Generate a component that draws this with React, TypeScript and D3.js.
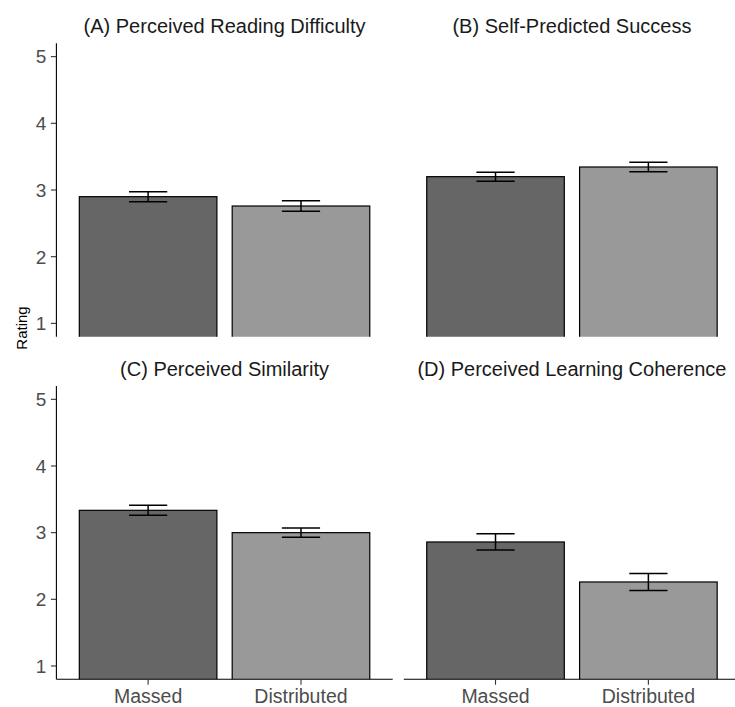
import React from "react";
import * as d3 from "d3";

const conditions = ["Massed", "Distributed"];
const panelTitles = [
  "(A) Perceived Reading Difficulty",
  "(B) Self-Predicted Success",
  "(C) Perceived Similarity",
  "(D) Perceived Learning Coherence",
];
const meanValues = [
  [2.9, 2.76],
  [3.2, 3.345],
  [3.335, 3.0],
  [2.86, 2.26],
];
const seValues = [
  [0.075, 0.077],
  [0.067, 0.07],
  [0.075, 0.07],
  [0.122, 0.127],
];
const yTicks = [1, 2, 3, 4, 5];
const barColors = ["#666666", "#999999"];

const W = 735;
const H = 707;
const colX: [number, number][] = [
  [56.4, 392.7],
  [403.8, 740.1],
];
const rowY: [number, number][] = [
  [43.3, 336.7],
  [386, 679.3],
];
const FONT = "Liberation Sans, Arial, Helvetica, sans-serif";

export default function App() {
  const panels = panelTitles.map((title, i) => {
    const col = i % 2;
    const row = Math.floor(i / 2);
    const x = d3
      .scaleBand<string>()
      .domain(conditions)
      .range(colX[col])
      .paddingInner(0.1)
      .paddingOuter(0.15);
    const y = d3
      .scaleLinear()
      .domain([0.8, 5.2])
      .range([rowY[row][1], rowY[row][0]]);
    const step = x.step();
    const ebHalf = (0.25 * step) / 2;
    const clipId = `clip-${i}`;
    const [x0, x1] = colX[col];
    const [yTop, yBot] = rowY[row];
    return (
      <g key={i}>
        <defs>
          <clipPath id={clipId}>
            <rect x={x0} y={yTop} width={x1 - x0} height={yBot - yTop} />
          </clipPath>
        </defs>
        <text
          x={(x0 + x1) / 2}
          y={yTop - 10}
          textAnchor="middle"
          fontSize={20}
          fill="#1A1A1A"
          fontFamily={FONT}
        >
          {title}
        </text>
        <g clipPath={`url(#${clipId})`}>
          {conditions.map((c, j) => {
            const m = meanValues[i][j];
            const se = seValues[i][j];
            const bx = x(c)!;
            const cx = bx + x.bandwidth() / 2;
            return (
              <g key={c}>
                <rect
                  x={bx}
                  y={y(m)}
                  width={x.bandwidth()}
                  height={y(0) - y(m)}
                  fill={barColors[j]}
                  stroke="#000"
                  strokeWidth={1.2}
                />
                <line x1={cx} x2={cx} y1={y(m - se)} y2={y(m + se)} stroke="#000" strokeWidth={1.5} />
                <line x1={cx - ebHalf} x2={cx + ebHalf} y1={y(m + se)} y2={y(m + se)} stroke="#000" strokeWidth={1.5} />
                <line x1={cx - ebHalf} x2={cx + ebHalf} y1={y(m - se)} y2={y(m - se)} stroke="#000" strokeWidth={1.5} />
              </g>
            );
          })}
        </g>
        {col === 0 && (
          <g>
            <line x1={x0} x2={x0} y1={yTop} y2={yBot} stroke="#000" strokeWidth={1.1} />
            {yTicks.map((t) => (
              <g key={t}>
                <line x1={x0 - 5.5} x2={x0} y1={y(t)} y2={y(t)} stroke="#333" strokeWidth={1.1} />
                <text
                  x={x0 - 10}
                  y={y(t)}
                  dy="0.36em"
                  textAnchor="end"
                  fontSize={19}
                  fill="#4D4D4D"
                  fontFamily={FONT}
                >
                  {t}
                </text>
              </g>
            ))}
          </g>
        )}
        {row === 1 && (
          <g>
            <line x1={x0} x2={x1} y1={yBot} y2={yBot} stroke="#000" strokeWidth={1.1} />
            {conditions.map((c) => {
              const cx = x(c)! + x.bandwidth() / 2;
              return (
                <g key={c}>
                  <line x1={cx} x2={cx} y1={yBot} y2={yBot + 5.5} stroke="#333" strokeWidth={1.1} />
                  <text
                    x={cx}
                    y={yBot + 23.8}
                    textAnchor="middle"
                    fontSize={19.5}
                    fill="#4D4D4D"
                    fontFamily={FONT}
                  >
                    {c}
                  </text>
                </g>
              );
            })}
          </g>
        )}
      </g>
    );
  });

  return (
    <svg width={W} height={H} style={{ display: "block", position: "absolute", left: 0, top: 0, background: "#fff" }}>
      <rect x={0} y={0} width={W} height={H} fill="#fff" />
      {panels}
      <text
        transform={`translate(27, 328) rotate(-90)`}
        textAnchor="middle"
        fontSize={15}
        fill="#000"
        fontFamily={FONT}
      >
        Rating
      </text>
    </svg>
  );
}
